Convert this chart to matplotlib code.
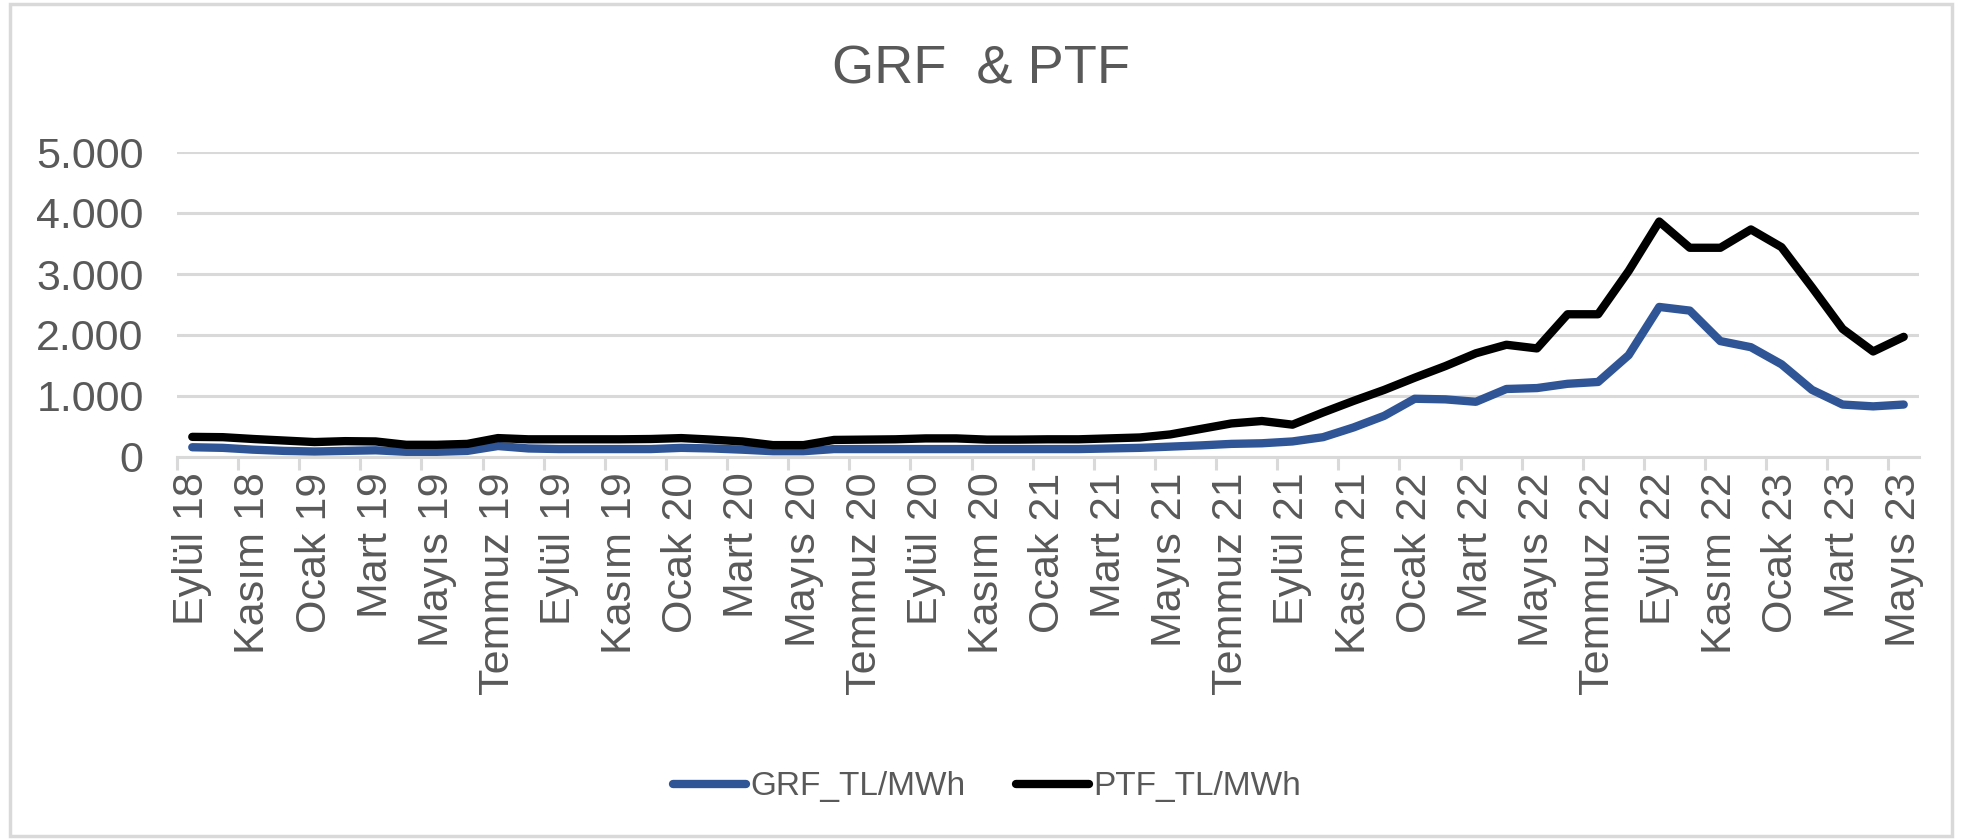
import matplotlib
matplotlib.use("Agg")
import matplotlib.pyplot as plt
from matplotlib.patches import Rectangle

# monthly categories, Eylül 2018 - Mayıs 2023
months = [
    "Eylül 18", "Ekim 18", "Kasım 18", "Aralık 18",
    "Ocak 19", "Şubat 19", "Mart 19", "Nisan 19", "Mayıs 19", "Haziran 19",
    "Temmuz 19", "Ağustos 19", "Eylül 19", "Ekim 19", "Kasım 19", "Aralık 19",
    "Ocak 20", "Şubat 20", "Mart 20", "Nisan 20", "Mayıs 20", "Haziran 20",
    "Temmuz 20", "Ağustos 20", "Eylül 20", "Ekim 20", "Kasım 20", "Aralık 20",
    "Ocak 21", "Şubat 21", "Mart 21", "Nisan 21", "Mayıs 21", "Haziran 21",
    "Temmuz 21", "Ağustos 21", "Eylül 21", "Ekim 21", "Kasım 21", "Aralık 21",
    "Ocak 22", "Şubat 22", "Mart 22", "Nisan 22", "Mayıs 22", "Haziran 22",
    "Temmuz 22", "Ağustos 22", "Eylül 22", "Ekim 22", "Kasım 22", "Aralık 22",
    "Ocak 23", "Şubat 23", "Mart 23", "Nisan 23", "Mayıs 23",
]

grf = [160, 150, 120, 100, 90, 100, 110, 85, 85, 100,
       180, 140, 130, 130, 130, 130, 150, 140, 120, 95,
       95, 130, 130, 130, 130, 130, 130, 130, 130, 130,
       140, 150, 170, 190, 215, 225, 255, 325, 485, 675,
       955, 945, 905, 1115, 1130, 1200, 1230, 1670, 2460, 2400,
       1900, 1800, 1520, 1100, 860, 830, 860]

ptf = [330, 325, 295, 270, 245, 260, 255, 200, 200, 215,
       310, 290, 290, 290, 290, 295, 310, 285, 255, 195,
       195, 280, 285, 290, 305, 305, 285, 285, 290, 290,
       305, 320, 370, 460, 550, 590, 530, 730, 920, 1100,
       1300, 1490, 1700, 1840, 1780, 2340, 2340, 3050, 3860, 3430,
       3430, 3730, 3440, 2780, 2100, 1730, 1970]

yticks = [0, 1000, 2000, 3000, 4000, 5000]
ytick_labels = ["0", "1.000", "2.000", "3.000", "4.000", "5.000"]

txt = "#595959"
grid = "#D9D9D9"
plt.rcParams["font.family"] = ["Liberation Sans", "DejaVu Sans"]

fig = plt.figure(figsize=(19.62, 8.4), dpi=100)
ax = fig.add_axes([177 / 1962, 1 - 457 / 840, (1919 - 177) / 1962, (457 - 152) / 840])

x = list(range(len(months)))
ax.plot(x, grf, color="#2F5597", lw=6, solid_joinstyle="round", solid_capstyle="round",
        label="GRF_TL/MWh", zorder=3)
ax.plot(x, ptf, color="black", lw=6, solid_joinstyle="round", solid_capstyle="round",
        label="PTF_TL/MWh", zorder=3)

ax.set_xlim(-0.5, len(months) - 0.5)
ax.set_ylim(0, 5000)
ax.set_yticks(yticks)
ax.set_yticklabels(ytick_labels)
ax.yaxis.grid(True, color=grid, lw=2.2)
ax.set_axisbelow(True)

ax.set_xticks(x[::2])
ax.set_xticklabels(months[::2], rotation=90)
ax.set_xticks([i - 0.5 for i in x[::2]], minor=True)

for s in ["top", "right", "left"]:
    ax.spines[s].set_visible(False)
ax.spines["bottom"].set_color(grid)
ax.spines["bottom"].set_linewidth(2.2)

ax.tick_params(axis="y", length=0, pad=24, labelsize=31, labelcolor=txt)
ax.tick_params(axis="x", which="major", length=0, pad=11, labelsize=31, labelcolor=txt)
ax.tick_params(axis="x", which="minor", length=9.5, width=2.2, color=grid)

fig.text(0.5, 1 - 69 / 840, "GRF  & PTF", ha="center", va="center", fontsize=39, color=txt)

fig.legend(loc="center", bbox_to_anchor=(0.503, 1 - 787 / 840), ncol=2, frameon=False,
           fontsize=24, labelcolor=txt, handlelength=2.2, handletextpad=0.12, columnspacing=1.5)

fig.patches.append(Rectangle((10 / 1962, 4 / 840), 1942 / 1962, 832 / 840, transform=fig.transFigure,
                             fill=False, edgecolor=grid, lw=2.5))

fig.savefig("out.png", dpi=100)
